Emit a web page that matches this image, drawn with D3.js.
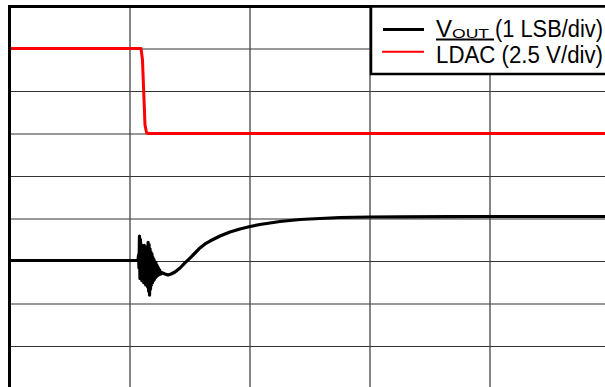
<!DOCTYPE html>
<html>
<head>
<meta charset="utf-8">
<script src="https://cdn.jsdelivr.net/npm/d3@7"></script>
<style>
  html, body { margin: 0; padding: 0; background: #fff; }
  svg { display: block; }
</style>
</head>
<body>
<svg id="chart" width="605" height="387"></svg>
<script>
// ---- Data (time and amplitude in scope divisions) ----
const xDivisions = [1, 2, 3, 4];
const yDivisions = [1, 2, 3, 4, 5, 6, 7, 8];

// LDAC trace (2.5 V/div)
const ldacT = [0, 1.092, 1.104, 1.117, 1.125, 1.138, 1.158, 5];
const ldacV = [8.01, 8.01, 7.74, 6.80, 6.21, 6.03, 6.01, 6.01];

// VOUT trace (1 LSB/div)
const voutT = [
  0, 0.5, 1.067,
  1.071, 1.075, 1.079, 1.083, 1.087, 1.091, 1.095, 1.099, 1.103, 1.107,
  1.111, 1.115, 1.119, 1.123, 1.127, 1.131, 1.135, 1.139, 1.143, 1.147,
  1.151, 1.155, 1.159, 1.163, 1.167, 1.171, 1.175, 1.179, 1.183, 1.187,
  1.191, 1.195, 1.199, 1.203, 1.207, 1.211, 1.215, 1.219, 1.223, 1.227,
  1.231, 1.235, 1.239, 1.243, 1.247, 1.251, 1.255, 1.259, 1.263,
  1.292, 1.317, 1.342, 1.375, 1.417, 1.458, 1.5, 1.542, 1.583, 1.625,
  1.667, 1.75, 1.833, 1.917, 2.0, 2.083, 2.167, 2.25, 2.333, 2.417,
  2.583, 2.75, 3.0, 3.25, 3.667, 4.083, 5
];
const voutV = [
  3.024, 3.024, 3.03,
  3.15, 2.85, 3.60, 2.60, 3.52, 2.70, 3.40, 2.55, 3.35, 2.65,
  3.30, 2.50, 3.38, 2.60, 3.28, 2.45, 3.34, 2.55, 3.25, 2.40,
  3.45, 2.30, 3.40, 2.21, 3.30, 2.35, 3.22, 2.45, 3.18, 2.50,
  3.10, 2.55, 3.05, 2.58, 3.00, 2.62, 2.98, 2.64, 2.92, 2.66,
  2.88, 2.68, 2.84, 2.69, 2.80, 2.70, 2.76, 2.71, 2.74,
  2.706, 2.682, 2.706, 2.753, 2.847, 2.965, 3.082, 3.2, 3.318, 3.412,
  3.482, 3.6, 3.694, 3.765, 3.824, 3.871, 3.906, 3.941, 3.965, 3.988,
  4.012, 4.035, 4.047, 4.052, 4.056, 4.059, 4.059
];

const legendLabels = ["(1 LSB/div)", "LDAC (2.5 V/div)"];

// ---- Drawing ----
const svg = d3.select("#chart");
const x = d3.scaleLinear().domain([0, 5]).range([10, 610]);
const y = d3.scaleLinear().domain([0, 9]).range([389, 6.5]);

svg.append("rect").attr("width", 605).attr("height", 387).attr("fill", "#fff");

// grid
svg.append("g").selectAll("line").data(yDivisions).join("line")
  .attr("x1", x(0)).attr("x2", x(5))
  .attr("y1", d => y(d)).attr("y2", d => y(d))
  .attr("stroke", "#333").attr("stroke-width", 1.2);
svg.append("g").selectAll("line").data(xDivisions).join("line")
  .attr("x1", d => x(d)).attr("x2", d => x(d))
  .attr("y1", y(0)).attr("y2", y(9))
  .attr("stroke", "#444").attr("stroke-width", 1.3);

const line = d3.line().x(d => x(d[0])).y(d => y(d[1]));

// LDAC
svg.append("path")
  .datum(ldacT.map((t, i) => [t, ldacV[i]]))
  .attr("d", line)
  .attr("fill", "none").attr("stroke", "#ff0000").attr("stroke-width", 3)
  .attr("stroke-linejoin", "round");

// VOUT
svg.append("path")
  .datum(voutT.map((t, i) => [t, voutV[i]]))
  .attr("d", line)
  .attr("fill", "none").attr("stroke", "#000").attr("stroke-width", 3.2)
  .attr("stroke-linejoin", "round");

// frame
svg.append("rect")
  .attr("x", 9.5).attr("y", 6.5).attr("width", 602).attr("height", 384)
  .attr("fill", "none").attr("stroke", "#000").attr("stroke-width", 3);

// legend
const lg = svg.append("g");
lg.append("rect")
  .attr("x", 371).attr("y", 6.5).attr("width", 300).attr("height", 67.5)
  .attr("fill", "#fff").attr("stroke", "#000").attr("stroke-width", 2.5);
lg.append("line").attr("x1", 383).attr("x2", 424).attr("y1", 29.5).attr("y2", 29.5)
  .attr("stroke", "#000").attr("stroke-width", 3);
lg.append("line").attr("x1", 382).attr("x2", 424).attr("y1", 51.7).attr("y2", 51.7)
  .attr("stroke", "#ff0000").attr("stroke-width", 2);

const font = "'Liberation Sans', Arial, sans-serif";
lg.append("text").attr("x", 436).attr("y", 36.7)
  .attr("font-family", font).attr("font-size", 23)
  .attr("textLength", 16).attr("lengthAdjust", "spacingAndGlyphs")
  .text("V");
lg.append("text").attr("x", 452).attr("y", 37.8)
  .attr("font-family", font).attr("font-size", 13)
  .attr("textLength", 37).attr("lengthAdjust", "spacingAndGlyphs")
  .text("OUT");
lg.append("text").attr("x", 495).attr("y", 36.7)
  .attr("font-family", font).attr("font-size", 23)
  .attr("textLength", 108).attr("lengthAdjust", "spacingAndGlyphs")
  .text(legendLabels[0]);
lg.append("text").attr("x", 436).attr("y", 62.7)
  .attr("font-family", font).attr("font-size", 23)
  .attr("textLength", 167).attr("lengthAdjust", "spacingAndGlyphs")
  .text(legendLabels[1]);
lg.append("line").attr("x1", 436).attr("x2", 494).attr("y1", 39.5).attr("y2", 39.5)
  .attr("stroke", "#000").attr("stroke-width", 2);
</script>
</body>
</html>
